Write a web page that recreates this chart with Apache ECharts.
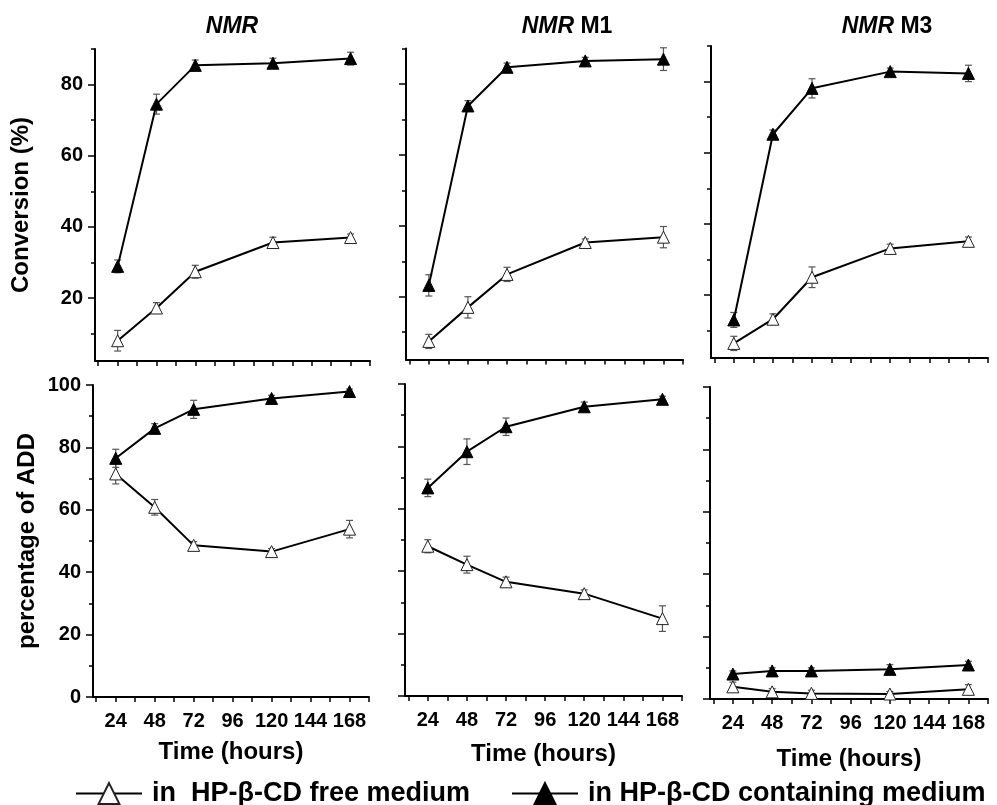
<!DOCTYPE html>
<html><head><meta charset="utf-8">
<script src="https://cdn.jsdelivr.net/npm/echarts@6.0.0/dist/echarts.min.js"></script>
<style>
  html,body{margin:0;padding:0;background:#fff}
  #chart{width:997px;height:805px}
</style>
</head><body><div id="chart"></div>
<script>
// sampling times (hours)
const hours = [24, 48, 72, 120, 168];
const xTickValues = [12, 24, 36, 48, 60, 72, 84, 96, 108, 120, 132, 144, 156, 168, 180];
const xLabelValues = [24, 48, 72, 96, 120, 144, 168];
const convMajor = [20, 40, 60, 80];
const convMinor = [10, 30, 50, 70, 90];
const addMajor = [0, 20, 40, 60, 80, 100];
const addMinor = [10, 30, 50, 70, 90];

// Conversion (%)
const convCD_NMR = [28.9, 74.5, 85.4, 86.0, 87.3];
const convCDErr_NMR = [1.8, 2.8, 1.5, 1.4, 1.8];
const convFree_NMR = [8.0, 17.2, 27.4, 35.6, 37.0];
const convFreeErr_NMR = [2.9, 1.5, 1.8, 1.5, 1.0];

const convCD_M1 = [23.2, 73.8, 84.7, 86.5, 87.0];
const convCDErr_M1 = [3.0, 1.5, 1.2, 1.0, 3.2];
const convFree_M1 = [7.4, 17.0, 26.3, 35.3, 36.8];
const convFreeErr_M1 = [2.0, 3.0, 2.0, 1.0, 3.0];

const convCD_M3 = [13.0, 65.2, 78.1, 82.8, 82.3];
const convCDErr_M3 = [2.1, 1.2, 2.7, 1.0, 2.3];
const convFree_M3 = [6.4, 13.2, 25.0, 33.1, 35.1];
const convFreeErr_M3 = [2.0, 1.5, 2.9, 1.2, 1.2];

// percentage of ADD
const addCD_NMR = [76.5, 86.1, 92.2, 95.7, 97.9];
const addCDErr_NMR = [2.9, 1.5, 2.9, 1.0, 0.8];
const addFree_NMR = [71.5, 60.8, 48.6, 46.6, 53.8];
const addFreeErr_NMR = [3.2, 2.5, 1.2, 1.0, 2.8];

const addCD_M1 = [66.7, 78.3, 86.3, 92.7, 95.1];
const addCDErr_M1 = [2.8, 4.1, 2.8, 1.5, 1.0];
const addFree_M1 = [48.0, 42.1, 36.6, 32.8, 24.8];
const addFreeErr_M1 = [2.1, 2.7, 1.5, 1.2, 4.1];

const addCD_M3 = [8.0, 9.0, 9.0, 9.5, 10.9];
const addCDErr_M3 = [1.0, 1.0, 1.0, 1.5, 1.2];
const addFree_M3 = [3.9, 2.3, 1.8, 1.6, 3.1];
const addFreeErr_M3 = [1.5, 1.0, 1.0, 0.8, 1.5];

const nameFree = 'in  HP-β-CD free medium';
const nameCD = 'in HP-β-CD containing medium';
const FONT = "'Liberation Sans', Arial, sans-serif";

const panels = [
  { grid: { left: 95, top: 49, width: 275, height: 312 }, ymin: 2.3, ymax: 90, major: convMajor, minor: convMinor,
    yLabel: true, yName: 'Conversion (%)', yGap: 62, xLabel: false,
    cd: convCD_NMR, cdErr: convCDErr_NMR, free: convFree_NMR, freeErr: convFreeErr_NMR },
  { grid: { left: 406, top: 48.5, width: 277, height: 311 }, ymin: 2.3, ymax: 90, major: convMajor, minor: convMinor,
    yLabel: false, xLabel: false,
    cd: convCD_M1, cdErr: convCDErr_M1, free: convFree_M1, freeErr: convFreeErr_M1 },
  { grid: { left: 711, top: 46, width: 277, height: 312 }, ymin: 2.3, ymax: 90, major: convMajor, minor: convMinor,
    yLabel: false, xLabel: false,
    cd: convCD_M3, cdErr: convCDErr_M3, free: convFree_M3, freeErr: convFreeErr_M3 },
  { grid: { left: 93, top: 385, width: 276, height: 312 }, ymin: 0, ymax: 100, major: addMajor, minor: addMinor,
    yLabel: true, yName: 'percentage of ADD', yGap: 54, xLabel: true, xGap: 43,
    cd: addCD_NMR, cdErr: addCDErr_NMR, free: addFree_NMR, freeErr: addFreeErr_NMR },
  { grid: { left: 405, top: 384, width: 277, height: 312 }, ymin: 0, ymax: 100, major: addMajor, minor: addMinor,
    yLabel: false, xLabel: true, xGap: 46,
    cd: addCD_M1, cdErr: addCDErr_M1, free: addFree_M1, freeErr: addFreeErr_M1 },
  { grid: { left: 710, top: 387, width: 278, height: 312 }, ymin: 0, ymax: 100, major: addMajor, minor: addMinor,
    yLabel: false, xLabel: true, xGap: 48,
    cd: addCD_M3, cdErr: addCDErr_M3, free: addFree_M3, freeErr: addFreeErr_M3 }
];

function errRender(params, api) {
  const x = api.value(0);
  const top = api.coord([x, api.value(2)]);
  const bot = api.coord([x, api.value(1)]);
  const w = 3.5;
  const style = { stroke: '#555', lineWidth: 1.2 };
  return { type: 'group', children: [
    { type: 'line', shape: { x1: top[0], y1: top[1], x2: bot[0], y2: bot[1] }, style: style },
    { type: 'line', shape: { x1: top[0] - w, y1: top[1], x2: top[0] + w, y2: top[1] }, style: style },
    { type: 'line', shape: { x1: bot[0] - w, y1: bot[1], x2: bot[0] + w, y2: bot[1] }, style: style }
  ]};
}

const grids = [], xAxes = [], yAxes = [], series = [];
panels.forEach(function (p, g) {
  grids.push(Object.assign({ containLabel: false }, p.grid));
  xAxes.push({
    type: 'value', gridIndex: g, min: 10, max: 180, position: 'bottom',
    name: p.xLabel ? 'Time (hours)' : '', nameLocation: 'middle', nameGap: p.xGap || 40,
    nameTextStyle: { fontFamily: FONT, fontWeight: 'bold', fontSize: 24, color: '#000' },
    axisLine: { onZero: false, lineStyle: { color: '#000', width: 2 } },
    axisTick: { customValues: xTickValues, length: 5, lineStyle: { color: '#000', width: 1.5 } },
    axisLabel: { show: p.xLabel, customValues: xLabelValues, margin: 14,
      fontFamily: FONT, fontWeight: 'bold', fontSize: 20, color: '#000' },
    splitLine: { show: false }
  });
  yAxes.push({
    type: 'value', gridIndex: g, min: p.ymin, max: p.ymax, position: 'left',
    name: p.yName || '', nameLocation: 'middle', nameRotate: 90, nameGap: p.yGap || 40,
    nameTextStyle: { fontFamily: FONT, fontWeight: 'bold', fontSize: 24, color: '#000' },
    axisLine: { show: true, onZero: false, lineStyle: { color: '#000', width: 2 } },
    axisTick: { show: true, customValues: p.major, length: 7, lineStyle: { color: '#000', width: 1.5 } },
    axisLabel: { show: p.yLabel, customValues: p.major, margin: 12,
      fontFamily: FONT, fontWeight: 'bold', fontSize: 20, color: '#000' },
    splitLine: { show: false }
  });
  yAxes.push({
    type: 'value', gridIndex: g, min: p.ymin, max: p.ymax, position: 'left', offset: 0,
    axisLine: { show: false },
    axisTick: { show: true, customValues: p.minor, length: 4, lineStyle: { color: '#000', width: 1.5 } },
    axisLabel: { show: false },
    splitLine: { show: false }
  });
  const yi = g * 2;
  series.push({
    type: 'custom', xAxisIndex: g, yAxisIndex: yi, renderItem: errRender, z: 1, silent: true,
    encode: { x: 0, y: [1, 2] },
    data: hours.map(function (h, i) { return [h, p.free[i] - p.freeErr[i], p.free[i] + p.freeErr[i]]; })
  });
  series.push({
    type: 'custom', xAxisIndex: g, yAxisIndex: yi, renderItem: errRender, z: 1, silent: true,
    encode: { x: 0, y: [1, 2] },
    data: hours.map(function (h, i) { return [h, p.cd[i] - p.cdErr[i], p.cd[i] + p.cdErr[i]]; })
  });
  series.push({
    name: nameFree, type: 'line', xAxisIndex: g, yAxisIndex: yi, z: 3,
    symbol: 'triangle', symbolSize: 12,
    lineStyle: { color: '#000', width: 2 },
    itemStyle: { color: '#fff', borderColor: '#222', borderWidth: 1 },
    data: hours.map(function (h, i) { return [h, p.free[i]]; })
  });
  series.push({
    name: nameCD, type: 'line', xAxisIndex: g, yAxisIndex: yi, z: 3,
    symbol: 'triangle', symbolSize: 12,
    lineStyle: { color: '#000', width: 2 },
    itemStyle: { color: '#000', borderColor: '#000', borderWidth: 1 },
    data: hours.map(function (h, i) { return [h, p.cd[i]]; })
  });
});

const titleStyle = { fontFamily: FONT, fontWeight: 'bold', fontSize: 23, color: '#000',
  rich: { i: { fontFamily: FONT, fontWeight: 'bold', fontStyle: 'italic', fontSize: 23, color: '#000' } } };

const legendText = { fontFamily: FONT, fontWeight: 'bold', fontSize: 27, color: '#000', padding: [0, 0, 0, 5] };

const option = {
  backgroundColor: '#fff',
  animation: false,
  title: [
    { text: '{i|NMR}', left: 227, top: 10, textAlign: 'center', textStyle: titleStyle },
    { text: '{i|NMR} M1', left: 562, top: 10, textAlign: 'center', textStyle: titleStyle },
    { text: '{i|NMR} M3', left: 882, top: 10, textAlign: 'center', textStyle: titleStyle }
  ],
  legend: [
    { data: [nameFree], left: 70, top: 775, itemWidth: 66, itemHeight: 26, textStyle: legendText, selectedMode: false },
    { data: [nameCD], left: 506, top: 775, itemWidth: 66, itemHeight: 26, textStyle: legendText, selectedMode: false }
  ],
  grid: grids,
  xAxis: xAxes,
  yAxis: yAxes,
  series: series
};

const chart = echarts.init(document.getElementById('chart'), null, { renderer: 'canvas' });
chart.setOption(option);
</script>
</body></html>
